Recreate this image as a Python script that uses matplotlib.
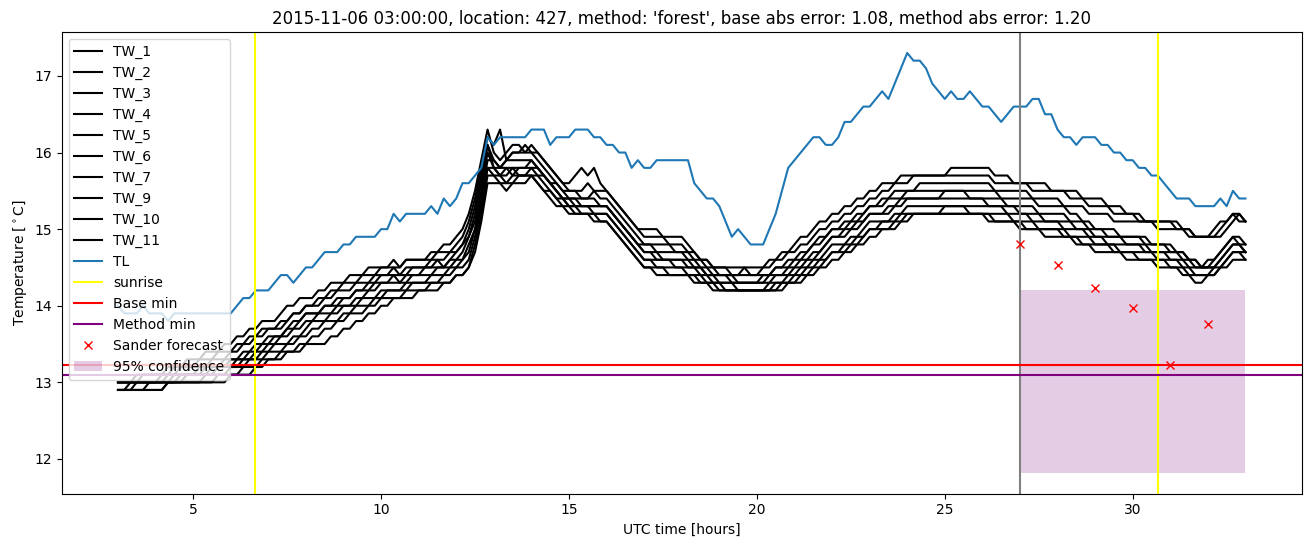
import numpy as np
import matplotlib
matplotlib.use("Agg")
import matplotlib.pyplot as plt

# ---------------- data (10-minute samples from 03:00 to 33:00 UTC hours) ----------------
start_hour = 3.0
step_hours = 1 / 6

TL = [14.0, 13.9, 13.9, 13.9, 14.0, 13.9, 13.9, 13.9, 13.8, 13.9, 13.9, 13.9,
      13.9, 13.9, 13.9, 13.9, 13.9, 13.9, 13.9, 14.0, 14.1, 14.1, 14.2, 14.2,
      14.2, 14.3, 14.4, 14.4, 14.3, 14.4, 14.5, 14.5, 14.6, 14.7, 14.7, 14.7,
      14.8, 14.8, 14.9, 14.9, 14.9, 14.9, 15.0, 15.0, 15.2, 15.1, 15.2, 15.2,
      15.2, 15.2, 15.3, 15.2, 15.4, 15.3, 15.4, 15.6, 15.6, 15.7, 15.8, 16.2,
      16.1, 16.2, 16.2, 16.2, 16.2, 16.2, 16.3, 16.3, 16.3, 16.1, 16.2, 16.2,
      16.2, 16.3, 16.3, 16.3, 16.2, 16.2, 16.1, 16.1, 16.0, 16.0, 15.8, 15.9,
      15.8, 15.8, 15.9, 15.9, 15.9, 15.9, 15.9, 15.9, 15.6, 15.5, 15.4, 15.4,
      15.3, 15.1, 14.9, 15.0, 14.9, 14.8, 14.8, 14.8, 15.0, 15.2, 15.5, 15.8,
      15.9, 16.0, 16.1, 16.2, 16.2, 16.1, 16.1, 16.2, 16.4, 16.4, 16.5, 16.6,
      16.6, 16.7, 16.8, 16.7, 16.9, 17.1, 17.3, 17.2, 17.2, 17.1, 16.9, 16.8,
      16.7, 16.8, 16.7, 16.7, 16.8, 16.7, 16.6, 16.6, 16.5, 16.4, 16.5, 16.6,
      16.6, 16.6, 16.7, 16.7, 16.5, 16.5, 16.3, 16.2, 16.2, 16.1, 16.2, 16.2,
      16.2, 16.1, 16.1, 16.0, 16.0, 15.9, 15.9, 15.8, 15.8, 15.7, 15.7, 15.6,
      15.5, 15.4, 15.4, 15.4, 15.3, 15.3, 15.3, 15.3, 15.4, 15.3, 15.5, 15.4,
      15.4]

TW_1 = [13.0, 13.0, 13.0, 13.0, 13.1, 13.1, 13.1, 13.1, 13.2, 13.2, 13.2, 13.3,
        13.3, 13.3, 13.4, 13.4, 13.4, 13.5, 13.5, 13.6, 13.6, 13.7, 13.7, 13.8,
        13.8, 13.8, 13.9, 14.0, 14.0, 14.1, 14.1, 14.1, 14.2, 14.2, 14.3, 14.3,
        14.3, 14.4, 14.4, 14.4, 14.5, 14.5, 14.5, 14.5, 14.6, 14.5, 14.6, 14.6,
        14.6, 14.6, 14.7, 14.7, 14.8, 14.8, 14.9, 15.0, 15.2, 15.5, 15.9, 16.3,
        16.0, 15.9, 16.0, 16.1, 16.1, 16.0, 16.1, 16.0, 15.9, 15.8, 15.7, 15.6,
        15.6, 15.7, 15.8, 15.7, 15.8, 15.6, 15.5, 15.4, 15.3, 15.2, 15.1, 15.0,
        15.0, 15.0, 15.0, 14.9, 14.9, 14.9, 14.9, 14.8, 14.7, 14.6, 14.6, 14.5,
        14.5, 14.5, 14.5, 14.5, 14.5, 14.5, 14.5, 14.5, 14.6, 14.6, 14.7, 14.7,
        14.8, 14.9, 14.9, 15.0, 15.1, 15.1, 15.2, 15.2, 15.3, 15.3, 15.4, 15.4,
        15.5, 15.5, 15.6, 15.6, 15.6, 15.7, 15.7, 15.7, 15.7, 15.7, 15.7, 15.7,
        15.7, 15.8, 15.8, 15.8, 15.8, 15.8, 15.8, 15.8, 15.7, 15.7, 15.7, 15.6,
        15.6, 15.6, 15.6, 15.6, 15.6, 15.5, 15.5, 15.5, 15.5, 15.5, 15.4, 15.4,
        15.4, 15.4, 15.3, 15.3, 15.3, 15.2, 15.2, 15.2, 15.1, 15.1, 15.1, 15.1,
        15.1, 15.0, 15.0, 15.0, 14.9, 14.9, 14.9, 15.0, 15.1, 15.1, 15.2, 15.1,
        15.1]

TW_2 = [13.0, 13.0, 13.0, 13.1, 13.1, 13.1, 13.1, 13.1, 13.1, 13.2, 13.2, 13.2,
        13.2, 13.3, 13.3, 13.3, 13.4, 13.4, 13.4, 13.5, 13.5, 13.6, 13.6, 13.7,
        13.7, 13.7, 13.8, 13.8, 13.9, 13.9, 14.0, 14.0, 14.1, 14.1, 14.2, 14.2,
        14.3, 14.3, 14.3, 14.4, 14.4, 14.4, 14.5, 14.5, 14.5, 14.5, 14.6, 14.6,
        14.6, 14.6, 14.6, 14.7, 14.7, 14.7, 14.8, 14.9, 15.1, 15.4, 15.8, 16.2,
        16.1, 16.3, 15.9, 16.0, 16.0, 16.1, 16.0, 16.0, 15.9, 15.8, 15.7, 15.6,
        15.5, 15.5, 15.5, 15.6, 15.5, 15.5, 15.5, 15.4, 15.3, 15.2, 15.1, 15.0,
        14.9, 14.9, 14.9, 14.9, 14.8, 14.8, 14.8, 14.7, 14.7, 14.6, 14.6, 14.5,
        14.5, 14.5, 14.4, 14.4, 14.4, 14.4, 14.4, 14.5, 14.5, 14.6, 14.6, 14.7,
        14.7, 14.8, 14.8, 14.9, 15.0, 15.0, 15.1, 15.1, 15.2, 15.2, 15.3, 15.3,
        15.4, 15.4, 15.5, 15.5, 15.6, 15.6, 15.6, 15.7, 15.7, 15.7, 15.7, 15.7,
        15.7, 15.7, 15.7, 15.7, 15.7, 15.7, 15.7, 15.7, 15.6, 15.6, 15.6, 15.6,
        15.6, 15.6, 15.5, 15.5, 15.5, 15.5, 15.5, 15.5, 15.4, 15.4, 15.4, 15.3,
        15.3, 15.3, 15.3, 15.2, 15.2, 15.2, 15.2, 15.1, 15.1, 15.1, 15.1, 15.1,
        15.1, 15.1, 15.0, 15.0, 14.9, 14.9, 14.9, 14.9, 15.0, 15.1, 15.2, 15.2,
        15.1]

TW_3 = [13.0, 13.0, 13.0, 13.0, 13.0, 13.0, 13.0, 13.1, 13.1, 13.1, 13.2, 13.2,
        13.2, 13.2, 13.2, 13.3, 13.3, 13.3, 13.4, 13.4, 13.5, 13.5, 13.6, 13.6,
        13.7, 13.7, 13.7, 13.8, 13.9, 13.9, 14.0, 14.0, 14.0, 14.1, 14.1, 14.2,
        14.2, 14.2, 14.3, 14.3, 14.3, 14.4, 14.4, 14.4, 14.5, 14.4, 14.5, 14.5,
        14.5, 14.5, 14.6, 14.6, 14.6, 14.7, 14.7, 14.8, 15.0, 15.3, 15.7, 16.1,
        15.9, 15.8, 15.9, 16.0, 16.0, 16.0, 16.0, 15.9, 15.8, 15.7, 15.6, 15.5,
        15.5, 15.5, 15.4, 15.4, 15.5, 15.4, 15.4, 15.3, 15.2, 15.1, 15.0, 14.9,
        14.8, 14.8, 14.8, 14.8, 14.8, 14.7, 14.7, 14.7, 14.6, 14.6, 14.5, 14.5,
        14.4, 14.4, 14.4, 14.4, 14.5, 14.4, 14.4, 14.4, 14.4, 14.5, 14.5, 14.6,
        14.6, 14.7, 14.7, 14.8, 14.9, 14.9, 15.0, 15.0, 15.1, 15.1, 15.2, 15.2,
        15.3, 15.3, 15.4, 15.4, 15.5, 15.5, 15.5, 15.5, 15.6, 15.6, 15.6, 15.6,
        15.6, 15.6, 15.6, 15.6, 15.6, 15.6, 15.6, 15.6, 15.5, 15.5, 15.5, 15.5,
        15.5, 15.5, 15.4, 15.4, 15.4, 15.4, 15.4, 15.3, 15.3, 15.3, 15.3, 15.2,
        15.2, 15.2, 15.2, 15.1, 15.1, 15.1, 15.1, 15.1, 15.1, 15.1, 15.0, 15.0,
        15.0, 15.0, 15.0, 14.9, 14.9, 14.9, 14.9, 14.9, 14.9, 15.0, 15.1, 15.2,
        15.1]

TW_4 = [13.0, 13.0, 13.0, 13.0, 13.0, 13.0, 13.0, 13.0, 13.1, 13.1, 13.1, 13.1,
        13.1, 13.2, 13.2, 13.2, 13.2, 13.3, 13.3, 13.3, 13.4, 13.4, 13.5, 13.5,
        13.6, 13.6, 13.6, 13.7, 13.7, 13.8, 13.9, 13.9, 13.9, 14.0, 14.0, 14.0,
        14.1, 14.1, 14.2, 14.2, 14.3, 14.3, 14.4, 14.4, 14.4, 14.4, 14.4, 14.5,
        14.5, 14.5, 14.5, 14.6, 14.5, 14.6, 14.7, 14.8, 14.9, 15.2, 15.6, 16.1,
        15.8, 15.8, 15.9, 15.9, 15.9, 15.9, 15.9, 15.8, 15.7, 15.6, 15.6, 15.5,
        15.4, 15.4, 15.4, 15.4, 15.4, 15.3, 15.3, 15.2, 15.1, 15.0, 14.9, 14.8,
        14.8, 14.8, 14.7, 14.7, 14.7, 14.7, 14.7, 14.6, 14.6, 14.5, 14.5, 14.4,
        14.4, 14.4, 14.4, 14.3, 14.3, 14.3, 14.3, 14.4, 14.4, 14.5, 14.5, 14.5,
        14.6, 14.6, 14.7, 14.8, 14.8, 14.9, 15.0, 15.0, 15.0, 15.1, 15.1, 15.2,
        15.3, 15.3, 15.3, 15.4, 15.4, 15.4, 15.5, 15.5, 15.5, 15.5, 15.5, 15.5,
        15.5, 15.5, 15.5, 15.5, 15.5, 15.5, 15.5, 15.5, 15.5, 15.4, 15.4, 15.4,
        15.4, 15.4, 15.4, 15.3, 15.3, 15.3, 15.3, 15.3, 15.2, 15.2, 15.1, 15.1,
        15.0, 15.0, 15.0, 15.0, 14.9, 14.9, 14.9, 14.9, 14.9, 14.8, 14.8, 14.8,
        14.8, 14.7, 14.7, 14.6, 14.6, 14.5, 14.6, 14.6, 14.7, 14.8, 14.9, 14.9,
        14.8]

TW_5 = [12.9, 12.9, 13.0, 13.0, 13.0, 13.0, 13.0, 13.0, 13.0, 13.1, 13.1, 13.1,
        13.1, 13.1, 13.2, 13.2, 13.2, 13.2, 13.3, 13.3, 13.3, 13.4, 13.4, 13.5,
        13.5, 13.6, 13.6, 13.7, 13.8, 13.8, 13.9, 13.9, 13.9, 14.0, 14.0, 14.1,
        14.1, 14.1, 14.2, 14.2, 14.2, 14.3, 14.3, 14.3, 14.4, 14.3, 14.4, 14.4,
        14.4, 14.5, 14.5, 14.5, 14.5, 14.6, 14.6, 14.7, 14.9, 15.1, 15.5, 16.0,
        15.8, 15.7, 15.8, 15.8, 15.8, 15.8, 15.9, 15.8, 15.7, 15.6, 15.5, 15.4,
        15.4, 15.4, 15.3, 15.3, 15.3, 15.3, 15.3, 15.2, 15.1, 15.0, 14.9, 14.8,
        14.7, 14.7, 14.7, 14.6, 14.6, 14.6, 14.6, 14.6, 14.5, 14.5, 14.4, 14.4,
        14.4, 14.4, 14.3, 14.3, 14.3, 14.3, 14.3, 14.3, 14.4, 14.4, 14.4, 14.5,
        14.5, 14.6, 14.6, 14.7, 14.7, 14.8, 14.9, 14.9, 15.0, 15.0, 15.1, 15.1,
        15.2, 15.2, 15.2, 15.3, 15.3, 15.4, 15.4, 15.4, 15.4, 15.4, 15.4, 15.4,
        15.5, 15.5, 15.5, 15.5, 15.4, 15.4, 15.4, 15.4, 15.4, 15.4, 15.3, 15.3,
        15.3, 15.3, 15.3, 15.2, 15.2, 15.2, 15.2, 15.2, 15.1, 15.1, 15.1, 15.0,
        15.0, 15.0, 14.9, 14.9, 14.9, 14.9, 14.9, 14.9, 14.8, 14.8, 14.8, 14.8,
        14.7, 14.7, 14.7, 14.6, 14.6, 14.5, 14.5, 14.6, 14.7, 14.8, 14.9, 14.8,
        14.8]

TW_6 = [13.0, 13.0, 13.0, 13.0, 13.0, 13.0, 13.0, 13.0, 13.0, 13.0, 13.1, 13.1,
        13.1, 13.1, 13.1, 13.2, 13.2, 13.2, 13.2, 13.3, 13.3, 13.3, 13.4, 13.4,
        13.5, 13.5, 13.6, 13.6, 13.7, 13.7, 13.8, 13.8, 13.9, 13.9, 13.9, 14.0,
        14.0, 14.0, 14.1, 14.1, 14.2, 14.2, 14.3, 14.3, 14.3, 14.3, 14.3, 14.4,
        14.4, 14.4, 14.4, 14.5, 14.5, 14.5, 14.6, 14.6, 14.8, 15.0, 15.4, 15.9,
        15.9, 15.8, 15.8, 15.7, 15.8, 15.8, 15.8, 15.8, 15.7, 15.6, 15.5, 15.4,
        15.4, 15.3, 15.3, 15.3, 15.3, 15.3, 15.3, 15.2, 15.1, 15.0, 14.9, 14.8,
        14.7, 14.7, 14.6, 14.6, 14.6, 14.6, 14.6, 14.5, 14.5, 14.5, 14.4, 14.4,
        14.3, 14.3, 14.3, 14.3, 14.3, 14.3, 14.3, 14.3, 14.3, 14.4, 14.4, 14.4,
        14.5, 14.5, 14.6, 14.6, 14.7, 14.8, 14.9, 14.9, 14.9, 15.0, 15.0, 15.1,
        15.2, 15.2, 15.2, 15.2, 15.3, 15.3, 15.4, 15.4, 15.4, 15.4, 15.4, 15.4,
        15.4, 15.4, 15.4, 15.4, 15.4, 15.4, 15.4, 15.3, 15.3, 15.3, 15.3, 15.3,
        15.2, 15.2, 15.2, 15.2, 15.1, 15.1, 15.1, 15.1, 15.1, 15.0, 15.0, 15.0,
        14.9, 14.9, 14.9, 14.9, 14.9, 14.8, 14.8, 14.8, 14.8, 14.7, 14.7, 14.7,
        14.7, 14.7, 14.6, 14.6, 14.5, 14.5, 14.5, 14.5, 14.6, 14.7, 14.8, 14.8,
        14.7]

TW_7 = [12.9, 12.9, 12.9, 13.0, 13.0, 13.0, 13.0, 13.0, 13.0, 13.0, 13.0, 13.1,
        13.1, 13.1, 13.1, 13.1, 13.2, 13.2, 13.2, 13.2, 13.3, 13.3, 13.3, 13.4,
        13.4, 13.5, 13.5, 13.5, 13.6, 13.6, 13.7, 13.8, 13.8, 13.8, 13.9, 13.9,
        14.0, 14.0, 14.0, 14.1, 14.1, 14.1, 14.2, 14.2, 14.2, 14.2, 14.3, 14.3,
        14.3, 14.3, 14.4, 14.4, 14.4, 14.5, 14.5, 14.6, 14.7, 15.0, 15.3, 15.8,
        15.7, 15.7, 15.7, 15.8, 15.7, 15.7, 15.8, 15.7, 15.7, 15.6, 15.5, 15.4,
        15.3, 15.3, 15.3, 15.3, 15.2, 15.2, 15.2, 15.1, 15.0, 14.9, 14.8, 14.7,
        14.6, 14.6, 14.6, 14.6, 14.6, 14.5, 14.5, 14.5, 14.5, 14.4, 14.4, 14.3,
        14.3, 14.3, 14.3, 14.2, 14.2, 14.2, 14.2, 14.2, 14.3, 14.3, 14.3, 14.4,
        14.4, 14.5, 14.5, 14.6, 14.6, 14.7, 14.8, 14.8, 14.8, 14.9, 14.9, 15.0,
        15.1, 15.1, 15.1, 15.1, 15.2, 15.2, 15.3, 15.3, 15.3, 15.3, 15.3, 15.3,
        15.3, 15.3, 15.3, 15.3, 15.3, 15.3, 15.3, 15.3, 15.3, 15.3, 15.2, 15.2,
        15.2, 15.2, 15.1, 15.1, 15.1, 15.1, 15.1, 15.0, 15.0, 15.0, 15.0, 14.9,
        14.9, 14.9, 14.8, 14.8, 14.8, 14.8, 14.8, 14.8, 14.7, 14.7, 14.7, 14.7,
        14.6, 14.6, 14.6, 14.5, 14.5, 14.5, 14.5, 14.5, 14.6, 14.7, 14.8, 14.8,
        14.7]

TW_9 = [12.9, 12.9, 12.9, 12.9, 12.9, 13.0, 13.0, 13.0, 13.0, 13.0, 13.0, 13.0,
        13.0, 13.0, 13.1, 13.1, 13.1, 13.1, 13.2, 13.2, 13.2, 13.3, 13.3, 13.3,
        13.4, 13.4, 13.4, 13.5, 13.5, 13.6, 13.6, 13.7, 13.7, 13.8, 13.8, 13.8,
        13.9, 13.9, 14.0, 14.0, 14.0, 14.1, 14.1, 14.2, 14.2, 14.2, 14.2, 14.3,
        14.3, 14.3, 14.3, 14.3, 14.4, 14.4, 14.5, 14.5, 14.6, 14.9, 15.3, 15.8,
        15.8, 15.7, 15.6, 15.7, 15.7, 15.7, 15.7, 15.7, 15.6, 15.5, 15.4, 15.4,
        15.3, 15.3, 15.2, 15.2, 15.2, 15.2, 15.2, 15.1, 15.0, 14.9, 14.8, 14.7,
        14.6, 14.6, 14.5, 14.5, 14.5, 14.5, 14.5, 14.4, 14.4, 14.4, 14.3, 14.3,
        14.3, 14.2, 14.2, 14.2, 14.2, 14.2, 14.2, 14.2, 14.2, 14.3, 14.3, 14.3,
        14.4, 14.4, 14.5, 14.5, 14.6, 14.6, 14.7, 14.7, 14.8, 14.8, 14.9, 14.9,
        15.0, 15.0, 15.1, 15.1, 15.1, 15.2, 15.2, 15.2, 15.2, 15.2, 15.2, 15.2,
        15.3, 15.3, 15.3, 15.3, 15.2, 15.2, 15.2, 15.2, 15.2, 15.2, 15.2, 15.1,
        15.1, 15.1, 15.1, 15.0, 15.0, 15.0, 15.0, 15.0, 14.9, 14.9, 14.9, 14.9,
        14.8, 14.8, 14.8, 14.8, 14.7, 14.7, 14.7, 14.7, 14.7, 14.7, 14.6, 14.6,
        14.6, 14.6, 14.5, 14.5, 14.4, 14.4, 14.4, 14.5, 14.5, 14.6, 14.7, 14.7,
        14.7]

TW_10 = [12.9, 12.9, 12.9, 12.9, 12.9, 12.9, 12.9, 12.9, 13.0, 13.0, 13.0, 13.0,
         13.0, 13.0, 13.0, 13.0, 13.1, 13.1, 13.1, 13.1, 13.2, 13.2, 13.2, 13.3,
         13.3, 13.3, 13.4, 13.4, 13.4, 13.5, 13.5, 13.6, 13.6, 13.7, 13.7, 13.8,
         13.8, 13.9, 13.9, 13.9, 14.0, 14.0, 14.1, 14.1, 14.1, 14.1, 14.2, 14.2,
         14.2, 14.2, 14.3, 14.3, 14.3, 14.3, 14.4, 14.4, 14.5, 14.8, 15.2, 15.7,
         15.7, 15.6, 15.6, 15.6, 15.7, 15.7, 15.7, 15.6, 15.5, 15.5, 15.4, 15.3,
         15.3, 15.2, 15.2, 15.2, 15.2, 15.1, 15.1, 15.0, 14.9, 14.8, 14.7, 14.6,
         14.5, 14.5, 14.5, 14.5, 14.4, 14.4, 14.4, 14.4, 14.4, 14.3, 14.3, 14.3,
         14.2, 14.2, 14.2, 14.2, 14.2, 14.2, 14.2, 14.2, 14.2, 14.2, 14.3, 14.3,
         14.3, 14.4, 14.4, 14.5, 14.5, 14.6, 14.7, 14.7, 14.7, 14.8, 14.8, 14.9,
         15.0, 15.0, 15.0, 15.0, 15.1, 15.1, 15.2, 15.2, 15.2, 15.2, 15.2, 15.2,
         15.2, 15.2, 15.2, 15.2, 15.2, 15.2, 15.2, 15.2, 15.1, 15.1, 15.1, 15.1,
         15.1, 15.0, 15.0, 15.0, 15.0, 15.0, 15.0, 14.9, 14.9, 14.9, 14.8, 14.8,
         14.8, 14.8, 14.8, 14.7, 14.7, 14.7, 14.7, 14.6, 14.6, 14.6, 14.6, 14.6,
         14.5, 14.5, 14.5, 14.4, 14.4, 14.4, 14.4, 14.4, 14.5, 14.6, 14.7, 14.7,
         14.6]

TW_11 = [12.9, 12.9, 12.9, 12.9, 12.9, 12.9, 12.9, 12.9, 13.0, 13.0, 13.0, 13.0,
         13.0, 13.0, 13.0, 13.0, 13.0, 13.0, 13.1, 13.1, 13.1, 13.1, 13.2, 13.2,
         13.3, 13.3, 13.3, 13.4, 13.4, 13.4, 13.5, 13.5, 13.5, 13.5, 13.6, 13.6,
         13.7, 13.7, 13.8, 13.8, 13.9, 13.9, 14.0, 14.0, 14.1, 14.1, 14.1, 14.1,
         14.2, 14.2, 14.2, 14.2, 14.3, 14.3, 14.4, 14.4, 14.5, 14.7, 15.1, 15.6,
         15.6, 15.6, 15.5, 15.6, 15.6, 15.6, 15.7, 15.6, 15.5, 15.4, 15.3, 15.3,
         15.2, 15.2, 15.2, 15.2, 15.1, 15.1, 15.1, 15.0, 14.9, 14.8, 14.7, 14.6,
         14.5, 14.5, 14.4, 14.4, 14.4, 14.4, 14.4, 14.4, 14.3, 14.3, 14.3, 14.2,
         14.2, 14.2, 14.2, 14.2, 14.2, 14.2, 14.2, 14.2, 14.2, 14.2, 14.2, 14.3,
         14.3, 14.3, 14.4, 14.4, 14.5, 14.5, 14.6, 14.6, 14.7, 14.7, 14.8, 14.8,
         14.9, 14.9, 15.0, 15.0, 15.0, 15.1, 15.1, 15.2, 15.2, 15.2, 15.2, 15.2,
         15.2, 15.2, 15.2, 15.2, 15.2, 15.2, 15.2, 15.1, 15.1, 15.1, 15.1, 15.1,
         15.0, 15.0, 15.0, 15.0, 14.9, 14.9, 14.9, 14.9, 14.9, 14.8, 14.8, 14.8,
         14.7, 14.7, 14.7, 14.7, 14.7, 14.6, 14.6, 14.6, 14.6, 14.6, 14.5, 14.5,
         14.5, 14.5, 14.4, 14.4, 14.3, 14.3, 14.4, 14.4, 14.5, 14.5, 14.6, 14.6,
         14.6]

tw_names = ["TW_1", "TW_2", "TW_3", "TW_4", "TW_5", "TW_6", "TW_7", "TW_9", "TW_10", "TW_11"]
tw_series = [TW_1, TW_2, TW_3, TW_4, TW_5, TW_6, TW_7, TW_9, TW_10, TW_11]

sunrise_hours = [6.65, 30.66]
forecast_time = 27.0
base_min = 13.23
method_min = 13.10

sander_hours = [27, 28, 29, 30, 31, 32]
sander_values = [14.80, 14.53, 14.23, 13.97, 13.22, 13.76]

conf_hours = [27.0, 33.0]
conf_low = [11.82, 11.82]
conf_high = [14.21, 14.21]

title = ("2015-11-06 03:00:00, location: 427, method: 'forest', "
         "base abs error: 1.08, method abs error: 1.20")


def hours_for(series):
    return start_hour + step_hours * np.arange(len(series))


# ---------------- plot ----------------
fig = plt.figure(figsize=(13.11, 5.47), dpi=100)
ax = fig.add_axes([0.047, 0.0975, 0.946, 0.844])

for name, vals in zip(tw_names, tw_series):
    ax.plot(hours_for(vals), vals, color="black", label=name)
ax.plot(hours_for(TL), TL, color="C0", label="TL")

for i, sr in enumerate(sunrise_hours):
    ax.axvline(sr, color="yellow", label="sunrise" if i == 0 else None)
ax.axvline(forecast_time, color="grey")
ax.axhline(base_min, color="red", label="Base min")
ax.axhline(method_min, color="purple", label="Method min")
ax.plot(sander_hours, sander_values, "x", color="red", linestyle="none", label="Sander forecast")
ax.fill_between(conf_hours, conf_low, conf_high, color="purple", alpha=0.2,
                linewidth=0, label="95% confidence")

ax.set_xlim(1.5, 34.5)
ax.set_ylim(11.546, 17.574)
ax.set_xlabel("UTC time [hours]")
ax.set_ylabel("Temperature [$^\\circ$C]")
ax.set_title(title)
ax.legend(loc="upper left")

fig.savefig("out.png", dpi=100)
